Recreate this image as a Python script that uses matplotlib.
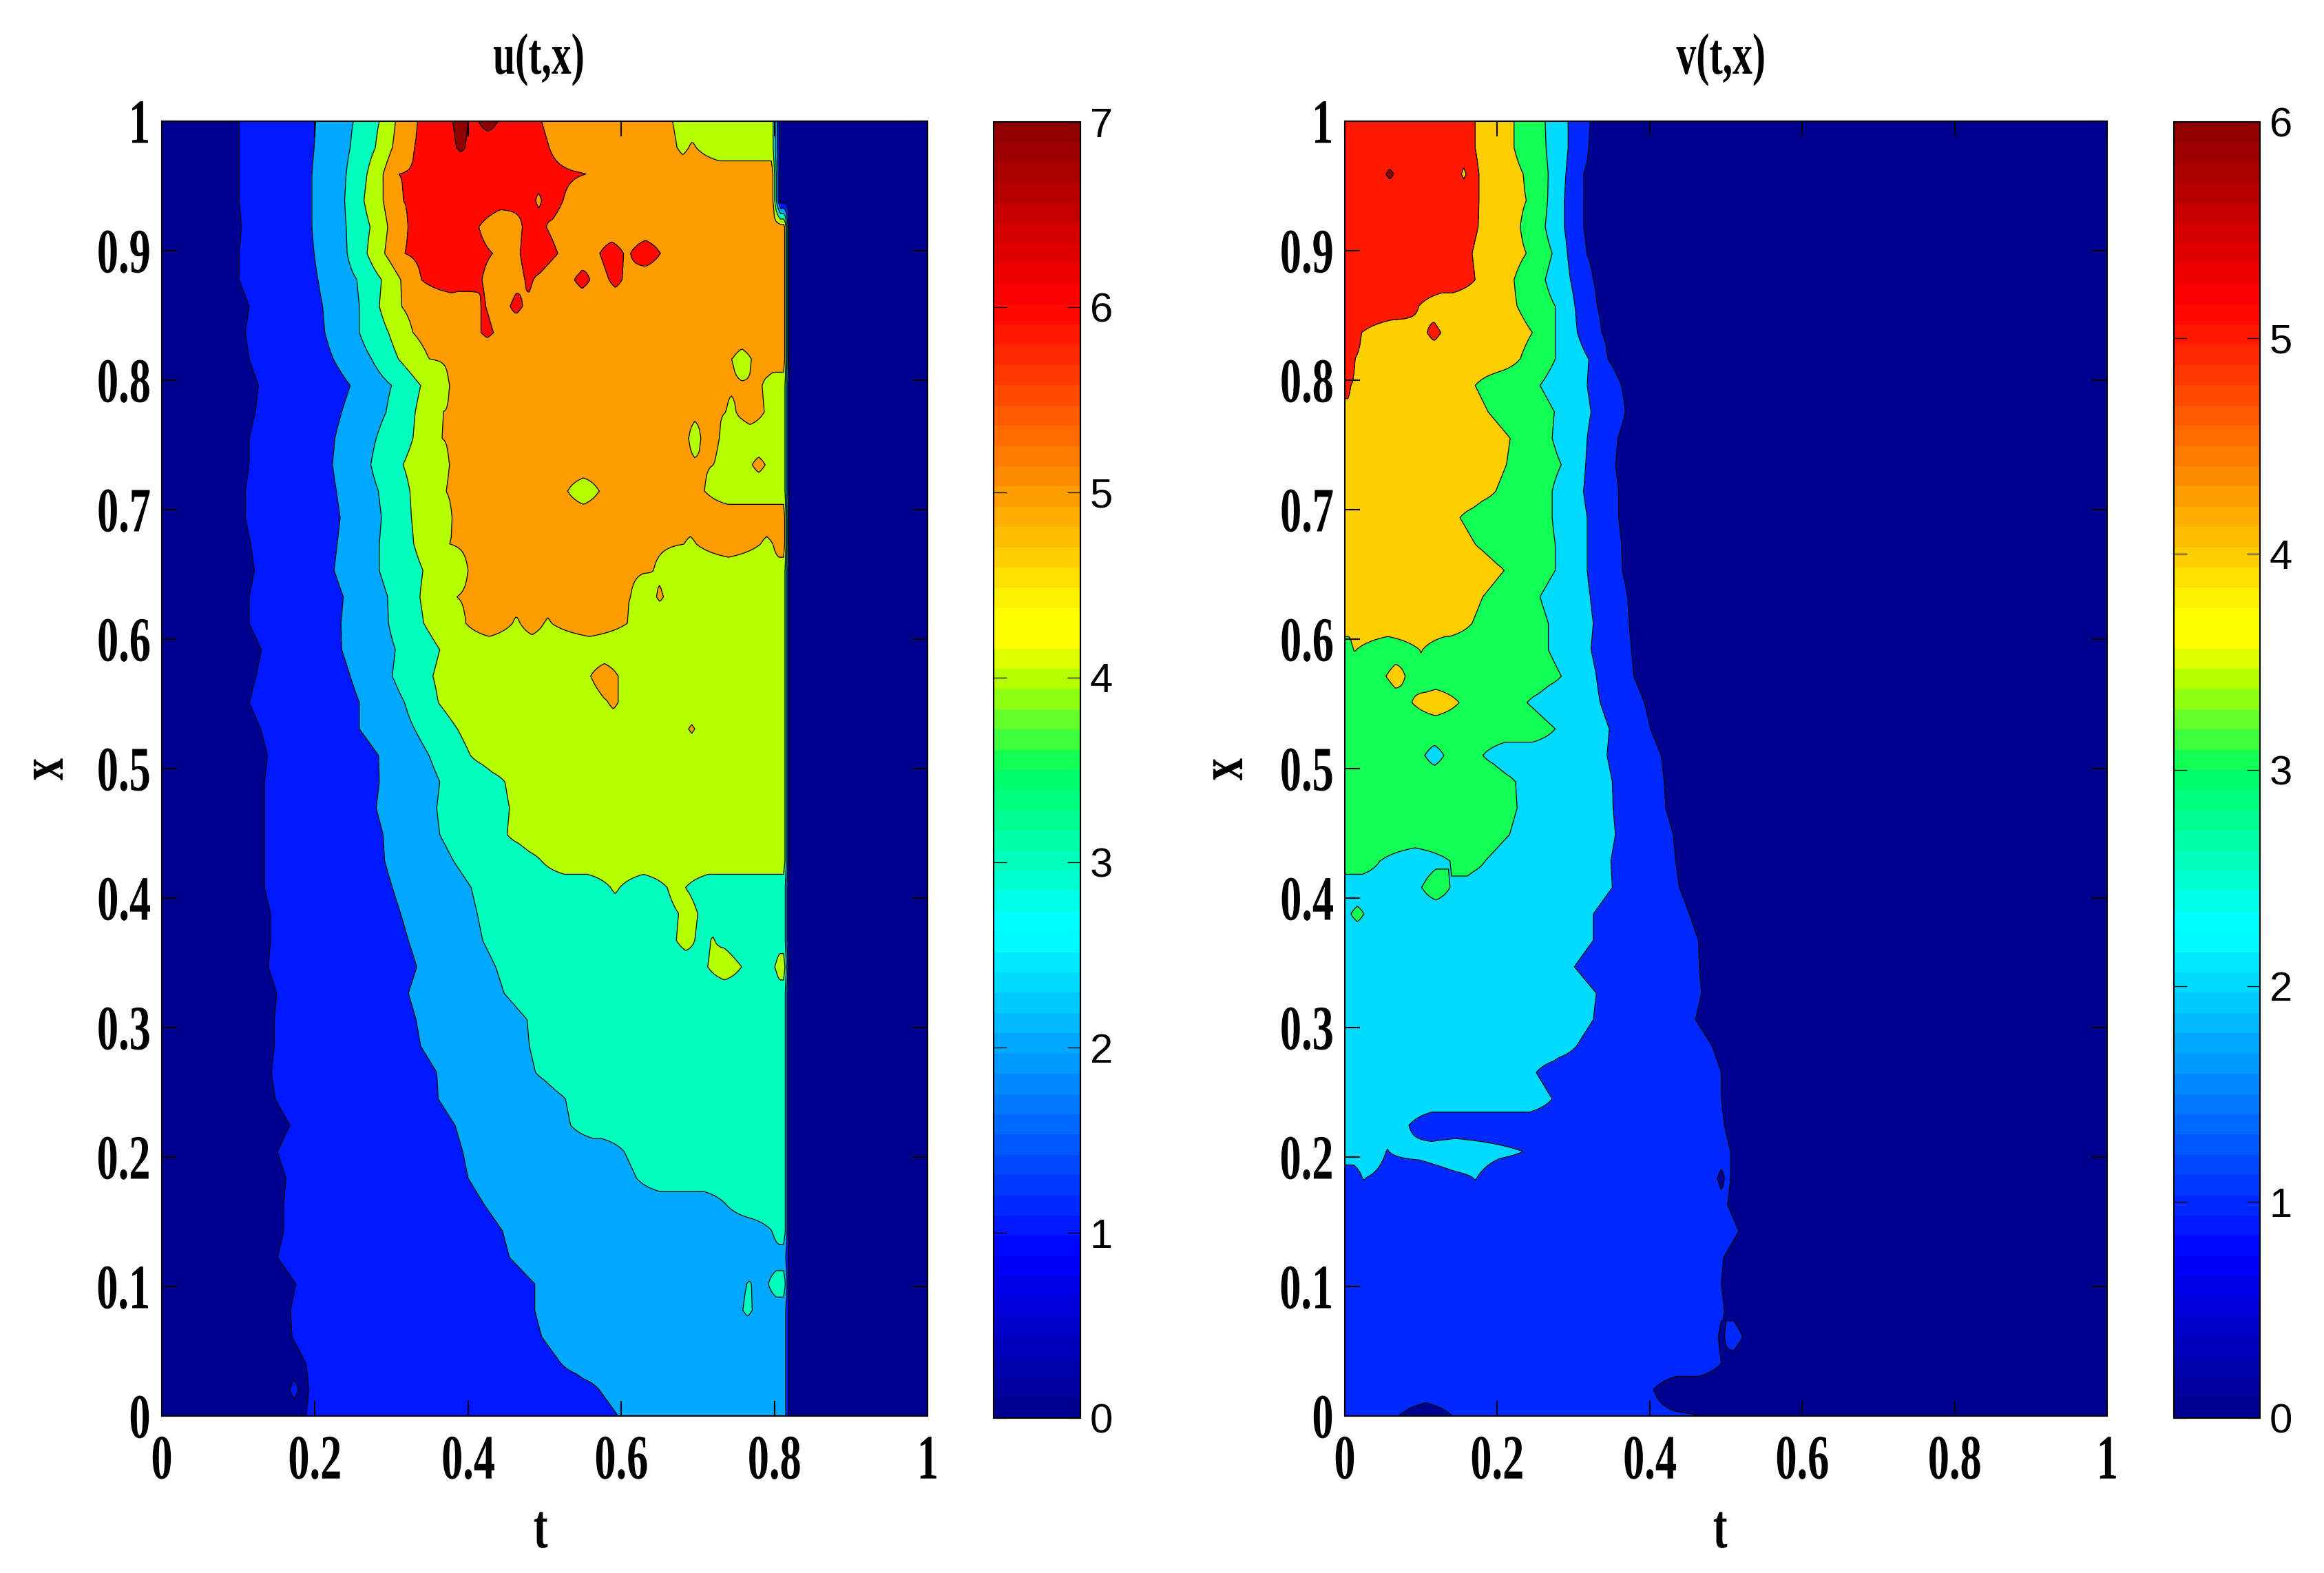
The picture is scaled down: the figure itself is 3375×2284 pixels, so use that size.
#!/usr/bin/env python
import numpy as np
import matplotlib
matplotlib.use("Agg")
import matplotlib.pyplot as plt
import matplotlib.patheffects as pe
from matplotlib.cm import ScalarMappable
from matplotlib.colors import LinearSegmentedColormap, Normalize
from matplotlib.transforms import Affine2D

W, H = 3375, 2284

# grid rows run from x=1 (first row) down to x=0 (last row)
row_count = 50
t_ticks = [0, 0.2, 0.4, 0.6, 0.8, 1]
x_ticks = [0, 0.1, 0.2, 0.3, 0.4, 0.5, 0.6, 0.7, 0.8, 0.9, 1]
u_cbar_ticks = [0, 1, 2, 3, 4, 5, 6, 7]
v_cbar_ticks = [0, 1, 2, 3, 4, 5, 6]

# each row: t where the band changes, and the band sequence read left to right
u_cross = [
    [.101, .201, .250, .284, .305, .334, .380, .400, .414, .439, .496, .667],
    [.101, .199, .246, .279, .301, .330, .385, .396, .506, .673, .688, .698],
    [.101, .196, .241, .268, .289, .309, .554],
    [.101, .196, .239, .264, .289, .315, .488, .496, .524],
    [.104, .196, .241, .272, .295, .321, .414, .471, .502],
    [.101, .199, .242, .268, .291, .317, .432, .468, .517, .572, .603, .612, .651],
    [.101, .204, .255, .287, .312, .339, .418, .474, .485, .539, .559, .584, .601],
    [.114, .210, .258, .284, .313, .417, .423, .455, .471],
    [.109, .213, .258, .296, .328, .417, .433],
    [.114, .224, .274, .309, .349, .745, .770],
    [.126, .246, .300, .338, .375, .784],
    [.122, .235, .293, .331, .367, .737, .750, .787],
    [.114, .226, .280, .328, .366, .688, .704, .728],
    [.114, .223, .273, .315, .375, .721, .771, .788],
    [.109, .228, .283, .324, .371, .530, .571, .709],
    [.109, .233, .287, .326, .379],
    [.116, .229, .284, .329, .376, .682, .698, .782, .798],
    [.121, .225, .284, .341, .400, .642],
    [.114, .237, .295, .337, .385, .612, .646, .655],
    [.114, .234, .296, .342, .397, .458, .468, .499, .509, .608],
    [.130, .235, .305, .363],
    [.123, .246, .301, .354, .560, .596],
    [.114, .258, .317, .361, .583, .596],
    [.129, .258, .330, .386, .688, .696],
    [.138, .283, .349, .403],
    [.134, .284, .363, .448],
    [.134, .280, .359, .454],
    [.134, .289, .363, .451],
    [.134, .291, .381, .496],
    [.134, .301, .404, .586, .598, .660, .684],
    [.142, .312, .412, .675, .700],
    [.142, .322, .419, .672, .696, .717, .722],
    [.139, .333, .436, .713, .757, .801],
    [.150, .322, .447],
    [.147, .332, .477],
    [.147, .338, .480],
    [.143, .359, .488],
    [.148, .361, .527],
    [.167, .383, .534],
    [.151, .393, .604],
    [.162, .400, .620],
    [.159, .421, .737],
    [.159, .445, .797],
    [.151, .454],
    [.175, .487, .764, .770, .792],
    [.168, .487, .759, .771],
    [.170, .496],
    [.188, .521],
    [.167, .178, .192, .571],
    [.188, .596],
]
u_bands = [
    "0123456767654", "0123456765454", "01234565", "0123456565", "0123456565",
    "01234565656565", "01234565656565", "0123456565", "01234565", "01234545",
    "0123454", "012345454", "012345454", "012345454", "012345454",
    "012345", "0123454545", "0123454", "012345454", "01234545454",
    "01234", "0123454", "0123454", "0123454", "01234",
    "01234", "01234", "01234", "01234", "01234343",
    "012343", "01234343", "0123434", "0123", "0123",
    "0123", "0123", "0123", "0123", "0123",
    "0123", "0123", "0123", "012", "012323",
    "01232", "012", "012", "01012", "012",
]
# right hand drop of u to zero
u_edge_start = [.797] * 4 + [.813] * 46
u_edge_end = [.808] * 4 + [.820] * 46

v_cross = [
    [.171, .222, .263, .293, .322],
    [.171, .222, .264, .293, .320],
    [.054, .064, .153, .159, .176, .234, .267, .290, .313],
    [.176, .238, .266, .288, .313],
    [.175, .230, .263, .288, .313],
    [.167, .238, .272, .292, .317],
    [.171, .222, .263, .296, .326],
    [.097, .226, .276, .302, .331],
    [.022, .108, .126, .246, .276, .305, .337],
    [.013, .230, .276, .320, .345],
    [.008, .171, .256, .318, .363],
    [.188, .275, .323, .368],
    [.217, .272, .318, .358],
    [.212, .284, .316, .355],
    [.198, .272, .313, .359],
    [.151, .272, .318, .359],
    [.171, .276, .318, .363],
    [.209, .276, .318, .364],
    [.181, .256, .322, .371],
    [.167, .267, .326, .373],
    [.011, .015, .098, .102, .267, .323, .376],
    [.054, .079, .284, .330, .379],
    [.088, .150, .239, .335, .393],
    [.276, .347, .401],
    [.105, .130, .181, .344, .415],
    [.224, .351, .419],
    [.226, .352, .421],
    [.216, .355, .431],
    [.046, .138, .184, .349, .434],
    [.101, .138, .351, .439],
    [.008, .025, .326, .452],
    [.326, .464],
    [.301, .465],
    [.330, .468],
    [.326, .460],
    [.304, .482],
    [.251, .494],
    [.272, .494],
    [.084, .498],
    [.054, .058, .234, .506],
    [.023, .027, .169, .173, .489, .498, .506],
    [.502],
    [.517],
    [.497],
    [.494],
    [.498],
    [.490, .498, .522],
    [.494],
    [.405],
    [.071, .141, .468],
]
v_bands = [
    "543210", "543210", "5654543210", "543210", "543210",
    "543210", "543210", "543210", "54543210", "543210",
    "543210", "43210", "43210", "43210", "43210",
    "43210", "43210", "43210", "43210", "43210",
    "34343210", "343210", "343210", "3210", "323210",
    "3210", "3210", "3210", "323210", "23210",
    "23210", "210", "210", "210", "210",
    "210", "210", "210", "210", "21210",
    "12121010", "10", "10", "10", "10",
    "10", "1010", "10", "10", "1010",
]

# the jet variant of the figure, 64 flat steps
jet_steps = LinearSegmentedColormap("jet_steps", {
    "red": [(0, 0, 0), (.5, 0, 0), (.6, 1, 1), (.87, 1, 1), (1, .5625, .5625)],
    "green": [(0, 0, 0), (.12, 0, 0), (.37, 1, 1), (.62, 1, 1), (.865, 0, 0), (1, 0, 0)],
    "blue": [(0, .5625, .5625), (.12, 1, 1), (.38, 1, 1), (.57, 0, 0), (1, 0, 0)],
}, N=64)

serif = {"family": "Liberation Serif", "weight": "bold"}


class Squeeze(pe.AbstractPathEffect):
    """Narrow the glyph outlines, the source text is a condensed bold serif."""

    def __init__(self, sx=1.0, sy=1.0, anchor=0.5):
        super().__init__()
        self.sx, self.sy, self.anchor = sx, sy, anchor

    def draw_path(self, renderer, gc, tpath, affine, rgbFace=None):
        box = tpath.transformed(affine).get_extents()
        ox = box.x0 + self.anchor * box.width
        oy = box.y0 + 0.5 * box.height
        narrow = Affine2D().translate(-ox, -oy).scale(self.sx, self.sy).translate(ox, oy)
        renderer.draw_path(gc, tpath, affine + narrow, rgbFace)


def build_field(cross_rows, band_rows, t_grid, edge_start=None, edge_end=None, ramp=0.03):
    field = []
    for i, (cross, band) in enumerate(zip(cross_rows, band_rows)):
        levels = [int(c) for c in band]
        stop = edge_start[i] if edge_start else 1.0
        ends = [0.0] + list(cross) + [stop]
        knot_t = [0.0]
        knot_z = [levels[0] + 0.5]
        for n, lev in enumerate(levels):
            lo, hi = ends[n], ends[n + 1]
            if n > 0:
                knot_t.append(lo)
                knot_z.append(max(levels[n - 1], lev))
            width = hi - lo
            peak = 0 < n < len(levels) - 1 and levels[n - 1] == levels[n + 1]
            if peak:
                # narrow islands stay low, so they stay small between rows
                rise = 0.5 * min(1.0, width / 0.04)
                top = max(levels[n - 1], lev) + (rise if lev > levels[n - 1] else -rise)
                knot_t.append((lo + hi) / 2)
                knot_z.append(top)
            elif width > 2 * ramp:
                if n > 0:
                    knot_t.append(lo + ramp)
                    knot_z.append(lev + 0.5)
                if n < len(levels) - 1:
                    knot_t.append(hi - ramp)
                    knot_z.append(lev + 0.5)
            else:
                knot_t.append((lo + hi) / 2)
                knot_z.append(lev + 0.5)
        if edge_start:
            knot_t += [edge_start[i], edge_end[i]]
            knot_z += [levels[-1] + 0.5, 0.5]
        knot_t.append(1.0)
        knot_z.append(knot_z[-1])
        field.append(np.interp(t_grid, knot_t, knot_z))
    return np.array(field)[::-1]


def px_axes(fig, left, right, top, bottom):
    return fig.add_axes([left / W, 1 - bottom / H, (right - left) / W, (bottom - top) / H])


def px_text(fig, x, y, s, size, sx=0.68, sy=1.0, **kw):
    t = fig.text(x / W, 1 - y / H, s, fontsize=size, color="black", **serif, **kw)
    t.set_path_effects([Squeeze(sx, sy)])
    return t


def draw_panel(fig, box, cbar_box, cross, bands, top_level, cbar_ticks, title, title_x,
               label_x, xlabel_x, edge_start=None, edge_end=None):
    ax = px_axes(fig, *box)
    t_grid = np.linspace(0, 1, 501)
    x_grid = np.linspace(0, 1, row_count)
    z = build_field(cross, bands, t_grid, edge_start, edge_end)

    levels = list(range(top_level + 2))
    colors = [jet_steps(k / top_level) for k in range(top_level + 1)]
    ax.contourf(t_grid, x_grid, z, levels=levels, colors=colors)
    ax.contour(t_grid, x_grid, z, levels=levels[1:-1], colors="black", linewidths=0.9)

    ax.set_xlim(0, 1)
    ax.set_ylim(0, 1)
    ax.set_xticks(t_ticks)
    ax.set_yticks(x_ticks)
    ax.set_xticklabels([f"{v:g}" for v in t_ticks], fontsize=66, **serif)
    ax.set_yticklabels([f"{v:g}" for v in x_ticks], fontsize=66, **serif)
    ax.tick_params(axis="both", direction="in", length=16, width=1.5,
                   top=True, right=True)
    ax.tick_params(axis="x", pad=20)
    ax.tick_params(axis="y", pad=11)
    for lab in ax.get_xticklabels():
        lab.set_path_effects([Squeeze(0.68, 1.0, 0.5)])
    for lab in ax.get_yticklabels():
        lab.set_path_effects([Squeeze(0.68, 1.0, 1.0)])
    for sp in ax.spines.values():
        sp.set_linewidth(1.5)

    px_text(fig, title_x, 107, title, 61, ha="center", va="baseline")
    px_text(fig, xlabel_x, 2247, "t", 66, ha="center", va="baseline")
    px_text(fig, label_x, 1117, "x", 66, sx=1.0, sy=0.7, rotation=90, ha="center", va="center")

    cax = px_axes(fig, *cbar_box)
    mappable = ScalarMappable(Normalize(0, top_level), jet_steps)
    cbar = fig.colorbar(mappable, cax=cax, ticks=cbar_ticks)
    cbar.outline.set_linewidth(1.5)
    cax.tick_params(direction="in", length=14, width=0.9, left=True, right=True, pad=10)
    cax.set_yticklabels([str(v) for v in cbar_ticks], fontsize=43, family="Liberation Sans")


fig = plt.figure(figsize=(W / 100, H / 100), facecolor="white")

draw_panel(fig, (235, 1347, 176, 2056), (1443, 1569, 177, 2059), u_cross, u_bands, 7,
           u_cbar_ticks, "u(t,x)", 783, 69, 785, u_edge_start, u_edge_end)
draw_panel(fig, (1953, 3060, 176, 2056), (3157, 3282, 177, 2059), v_cross, v_bands, 6,
           v_cbar_ticks, "v(t,x)", 2500, 1782, 2498)

fig.savefig("out.png", dpi=100)
